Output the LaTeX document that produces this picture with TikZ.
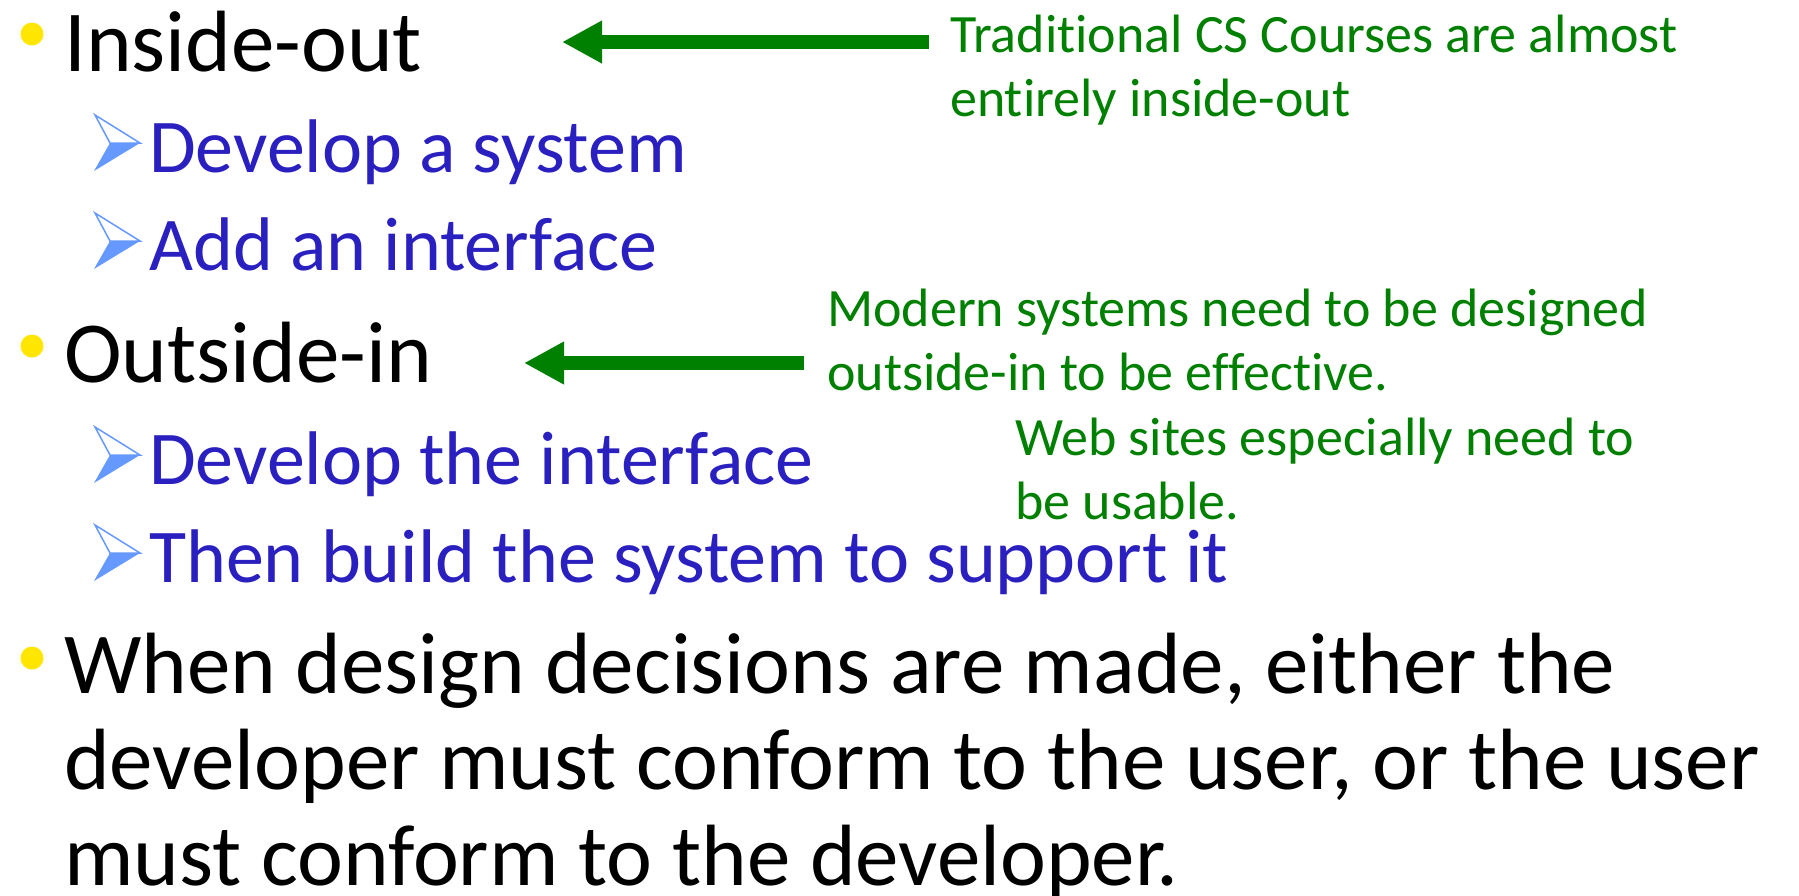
\documentclass[tikz,border=0pt]{standalone}
\usepackage{fontspec}
\setmainfont{Carlito}[Ligatures=NoCommon]
\usetikzlibrary{arrows.meta}
\definecolor{dotyellow}{HTML}{FFE600}
\definecolor{subblue}{HTML}{2A1FBF}
\definecolor{tipblue}{HTML}{6699FF}
\definecolor{notegreen}{HTML}{008000}

\tikzset{
	mainline/.style={anchor=base west, inner sep=0pt, align=left, font=\fontsize{87}{96}\selectfont},
	subline/.style={anchor=base west, inner sep=0pt, text=subblue, font=\fontsize{76}{90}\selectfont},
	note/.style={anchor=base west, inner sep=0pt, align=left, text=notegreen, font=\fontsize{54}{64}\selectfont},
	pointer/.style={notegreen, line width=14pt, -{Triangle[length=40pt, width=40pt]}},
}

\begin{document}
\begin{tikzpicture}[x=1pt, y=-1pt]
	\fill[white] (0,0) rectangle (1799,895);
	\useasboundingbox (0,0) rectangle (1799,895);

	% yellow bullets
	\foreach \y in {34,346,658}{
		\fill[dotyellow] (32,\y) circle[radius=11.5pt];
	}
	% blue arrow bullets
	\foreach \y in {171,269,483,581}{
		\fill[tipblue] (110,\y-28) -- (140,\y-28) -- (94,\y) -- cycle;
		\draw[tipblue, line width=1.5pt] (95,\y-56) -- (140,\y-28) -- (110,\y-28) -- cycle;
	}

	% base west of a multi-line node sits on its last line
	\node[mainline] (inside) at (64,71) {Inside-out};
	\node[subline] (system) at (149,172) {Develop a system};
	\node[subline] (addui) at (149,270) {Add an interface};
	\node[mainline] (outside) at (64,382) {Outside-in};
	\node[subline] (devui) at (149,484) {Develop the interface};
	\node[subline] (build) at (149,582) {Then build the system to support it};
	\node[mainline] (when) at (64,885) {When design decisions are made, either the\\developer must conform to the user, or the user\\must conform to the developer.};

	% green notes
	\node[note] (trad) at (950,116) {Traditional CS Courses are almost\\entirely inside-out};
	\node[note] (modern) at (827,390) {Modern systems need to be designed\\outside-in to be effective.};
	\node[note] (web) at (1015,519) {Web sites especially need to\\be usable.};

	\coordinate (tail1) at (929,42);
	\coordinate (tip1) at (562,42);
	\coordinate (tail2) at (804,363);
	\coordinate (tip2) at (524,363);
	\draw[pointer] (tail1) -- (tip1);
	\draw[pointer] (tail2) -- (tip2);
\end{tikzpicture}
\end{document}
